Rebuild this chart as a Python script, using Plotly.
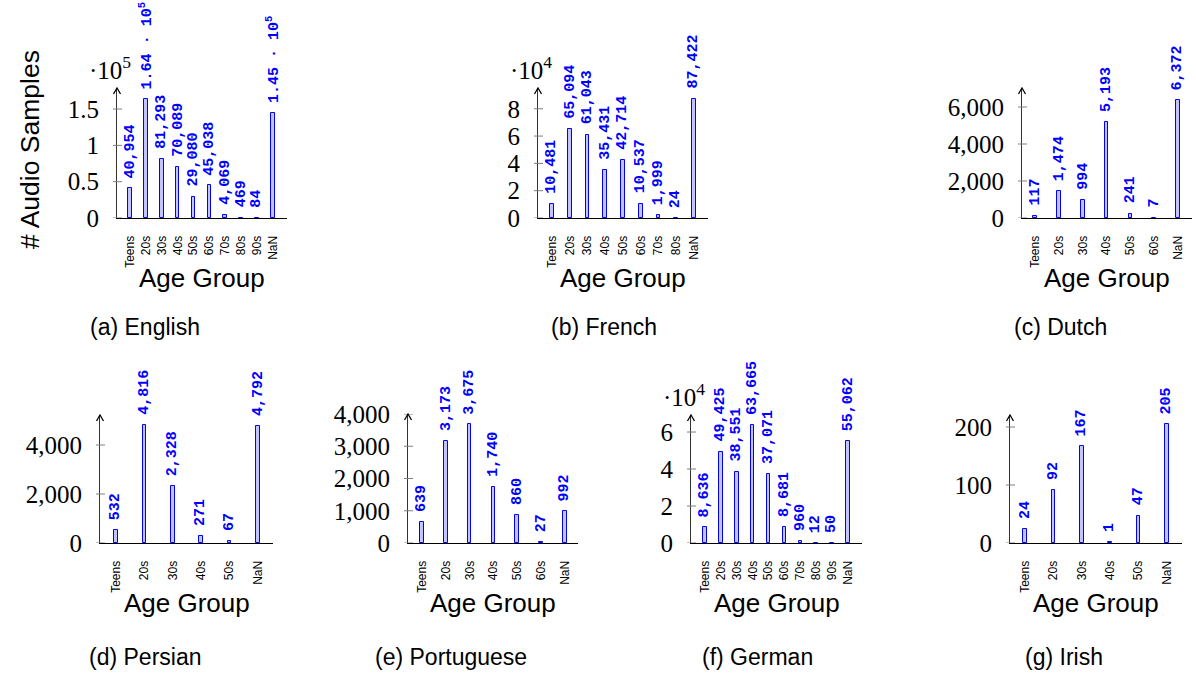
import plotly.graph_objects as go

# ---- data: audio samples per age group, one pair of lists per language ----
en_groups = ["Teens", "20s", "30s", "40s", "50s", "60s", "70s", "80s", "90s", "NaN"]
en_counts = [40954, 164000, 81293, 70089, 29080, 45038, 4069, 469, 84, 145000]

fr_groups = ["Teens", "20s", "30s", "40s", "50s", "60s", "70s", "80s", "NaN"]
fr_counts = [10481, 65094, 61043, 35431, 42714, 10537, 1999, 24, 87422]

nl_groups = ["Teens", "20s", "30s", "40s", "50s", "60s", "NaN"]
nl_counts = [117, 1474, 994, 5193, 241, 7, 6372]

fa_groups = ["Teens", "20s", "30s", "40s", "50s", "NaN"]
fa_counts = [532, 4816, 2328, 271, 67, 4792]

pt_groups = ["Teens", "20s", "30s", "40s", "50s", "60s", "NaN"]
pt_counts = [639, 3173, 3675, 1740, 860, 27, 992]

de_groups = ["Teens", "20s", "30s", "40s", "50s", "60s", "70s", "80s", "90s", "NaN"]
de_counts = [8636, 49425, 38551, 63665, 37071, 8681, 960, 12, 50, 55062]

ga_groups = ["Teens", "20s", "30s", "40s", "50s", "NaN"]
ga_counts = [24, 92, 167, 1, 47, 205]

# y tick positions and their printed labels
en_ticks = [0, 50000, 100000, 150000]
en_ticktext = ["0", "0.5", "1", "1.5"]
fr_ticks = [0, 20000, 40000, 60000, 80000]
fr_ticktext = ["0", "2", "4", "6", "8"]
nl_ticks = [0, 2000, 4000, 6000]
nl_ticktext = ["0", "2,000", "4,000", "6,000"]
fa_ticks = [0, 2000, 4000]
fa_ticktext = ["0", "2,000", "4,000"]
pt_ticks = [0, 1000, 2000, 3000, 4000]
pt_ticktext = ["0", "1,000", "2,000", "3,000", "4,000"]
de_ticks = [0, 20000, 40000, 60000]
de_ticktext = ["0", "2", "4", "6"]
ga_ticks = [0, 100, 200]
ga_ticktext = ["0", "100", "200"]

captions = ["(a) English", "(b) French", "(c) Dutch", "(d) Persian",
            "(e) Portuguese", "(f) German", "(g) Irish"]
multipliers = ["·10<sup>5</sup>", "·10<sup>4</sup>", "", "", "", "·10<sup>4</sup>", ""]

W, H = 1196, 673

# panel geometry in pixels: (left, right, top, bottom), y max, x range, caption centre
panels = [
    dict(groups=en_groups, counts=en_counts, ticks=en_ticks, ticktext=en_ticktext,
         px=(117, 287, 88, 218), ymax=1.79e5, xr=(-0.83, 9.9), cap=(145, 327)),
    dict(groups=fr_groups, counts=fr_counts, ticks=fr_ticks, ticktext=fr_ticktext,
         px=(538, 708, 88, 218), ymax=9.52e4, xr=(-0.79, 8.79), cap=(604, 327)),
    dict(groups=nl_groups, counts=nl_counts, ticks=nl_ticks, ticktext=nl_ticktext,
         px=(1022, 1192, 88, 218), ymax=7027, xr=(-0.55, 6.59), cap=(1060, 327)),
    dict(groups=fa_groups, counts=fa_counts, ticks=fa_ticks, ticktext=fa_ticktext,
         px=(100, 273, 415, 543), ymax=5224, xr=(-0.56, 5.53), cap=(145, 657)),
    dict(groups=pt_groups, counts=pt_counts, ticks=pt_ticks, ticktext=pt_ticktext,
         px=(408, 578, 414, 543), ymax=4000, xr=(-0.59, 6.55), cap=(451, 657)),
    dict(groups=de_groups, counts=de_counts, ticks=de_ticks, ticktext=de_ticktext,
         px=(691, 862, 415, 543), ymax=6.92e4, xr=(-0.88, 9.88), cap=(757, 657)),
    dict(groups=ga_groups, counts=ga_counts, ticks=ga_ticks, ticktext=ga_ticktext,
         px=(1010, 1182, 415, 543), ymax=220.7, xr=(-0.53, 5.53), cap=(1064, 657)),
]

BLUE = "#0000ff"
SERIF = "Liberation Serif"
SANS = "Liberation Sans"
MONO = "Liberation Mono"
TICK_GRAY = "#7f7f7f"


def value_label(v):
    if v >= 100000:
        return f"{v / 1e5:.2f} · 10<sup>5</sup>"
    return f"{v:,}"


fig = go.Figure()
annotations = []
shapes = []

for i, p in enumerate(panels, start=1):
    xa = "x" if i == 1 else f"x{i}"
    ya = "y" if i == 1 else f"y{i}"
    left, right, top, bottom = p["px"]
    span = (right - left) / (p["xr"][1] - p["xr"][0])  # pixels per category

    fig.add_trace(go.Bar(
        x=p["groups"], y=p["counts"], xaxis=xa, yaxis=ya,
        width=3.6 / span,
        marker=dict(color="rgba(195,195,255,1)", line=dict(color=BLUE, width=1)),
        showlegend=False, hoverinfo="x+y",
    ))

    fig.layout[f"xaxis{'' if i == 1 else i}"] = dict(
        domain=[left / W, right / W], anchor=ya, type="category",
        range=list(p["xr"]), showline=True, linecolor="black", linewidth=1,
        ticks="", tickangle=-90, ticklabelstandoff=12, automargin=False,
        tickfont=dict(family=SANS, size=12, color="black"),
        showgrid=False, zeroline=False, fixedrange=True,
    )
    fig.layout[f"yaxis{'' if i == 1 else i}"] = dict(
        domain=[1 - bottom / H, 1 - top / H], anchor=xa,
        range=[0, p["ymax"]], showline=True, linecolor="#333333", linewidth=1,
        ticks="", tickvals=p["ticks"], ticktext=p["ticktext"], ticklabelstandoff=12,
        automargin=False, tickfont=dict(family=SERIF, size=25, color="black"),
        showgrid=False, zeroline=False, fixedrange=True,
    )

    # y ticks cross the axis line, category ticks hang below it
    for t in p["ticks"]:
        shapes.append(dict(type="line", xref=f"{xa} domain", yref=ya,
                           xsizemode="pixel", xanchor=0, x0=-4, x1=5, y0=t, y1=t,
                           line=dict(color=TICK_GRAY, width=1)))
    for g in p["groups"]:
        shapes.append(dict(type="line", xref=xa, yref=ya,
                           ysizemode="pixel", yanchor=0, y0=-5, y1=0, x0=g, x1=g,
                           line=dict(color=TICK_GRAY, width=1)))

    # open arrow head capping the y axis
    shapes.append(dict(type="path", xref=f"{xa} domain", yref=f"{ya} domain",
                       xsizemode="pixel", xanchor=0, ysizemode="pixel", yanchor=1,
                       path="M-3.5,-6 L0,0 L3.5,-6",
                       line=dict(color="black", width=1.3)))

    # value labels above each bar
    for g, v in zip(p["groups"], p["counts"]):
        annotations.append(dict(xref=xa, yref=ya, x=g, y=v, text=value_label(v),
                                textangle=-90, showarrow=False, xanchor="center",
                                yanchor="bottom", yshift=9, borderpad=0,
                                font=dict(family=MONO, size=15, color=BLUE,
                                          weight="bold")))

    # axis title under the category labels
    annotations.append(dict(xref=f"{xa} domain", yref="paper", x=0.5,
                            y=1 - (bottom + 60) / H, text="Age Group", showarrow=False,
                            xanchor="center", yanchor="middle",
                            font=dict(family=SANS, size=26, color="black")))

    # power-of-ten multiplier above the y axis
    if multipliers[i - 1]:
        annotations.append(dict(xref=f"{xa} domain", yref="paper", x=0, xshift=16,
                                y=1 - (top - 20) / H, text=multipliers[i - 1],
                                showarrow=False, xanchor="right", yanchor="middle",
                                font=dict(family=SERIF, size=25, color="black")))

    # sub-figure caption
    cx, cy = p["cap"]
    annotations.append(dict(xref="paper", yref="paper", x=cx / W, y=1 - cy / H,
                            text=captions[i - 1], showarrow=False,
                            xanchor="center", yanchor="middle",
                            font=dict(family=SANS, size=23, color="black")))

# shared y axis title
annotations.append(dict(xref="paper", yref="paper", x=30 / W, y=1 - 150 / H,
                        text="# Audio Samples", textangle=-90, showarrow=False,
                        xanchor="center", yanchor="middle",
                        font=dict(family=SANS, size=26.5, color="black")))

fig.update_layout(
    template="none",
    width=W, height=H, autosize=False,
    margin=dict(l=0, r=0, t=0, b=0, pad=0),
    paper_bgcolor="white", plot_bgcolor="white",
    bargap=0, annotations=annotations, shapes=shapes,
)

fig.write_html("out.html")
